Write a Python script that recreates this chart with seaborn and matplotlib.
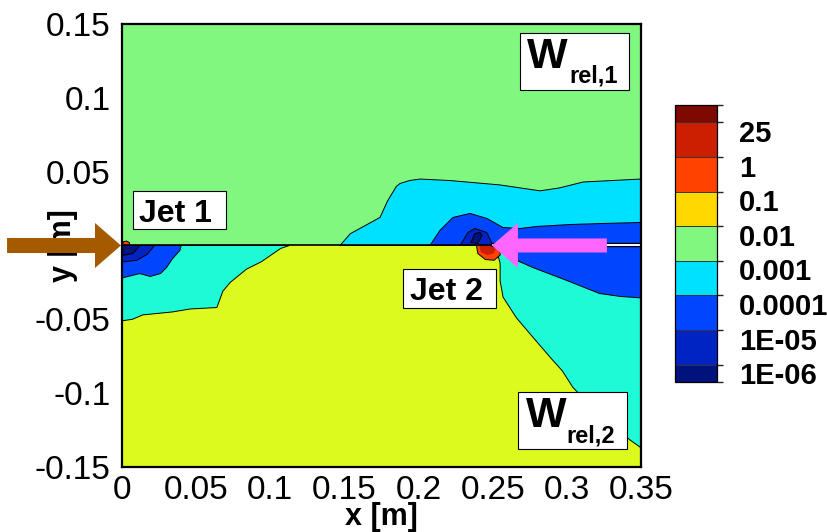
import matplotlib
matplotlib.use("Agg")
import matplotlib.pyplot as plt
import seaborn as sns
from matplotlib.colors import ListedColormap, BoundaryNorm
from matplotlib.cm import ScalarMappable
from matplotlib.patches import Rectangle, FancyArrow
from matplotlib.ticker import MultipleLocator

# ---- contour levels of the relative weight W_rel ----
level_labels = ["1E-06", "1E-05", "0.0001", "0.001", "0.01", "0.1", "1", "25"]
band_colors = ["#00127C", "#0024C4", "#0046FF", "#00E0FF", "#80F880",
               "#FFD800", "#FF4200", "#CC1E00", "#7C0A00"]
# fills of the lower stream (W_rel,2)
w2_high = "#DCFA1E"
w2_mid = "#1EFAD6"

# ---- domain halves ----
upper_x = [0.0, 0.35, 0.35, 0.0]
upper_y = [0.0, 0.0, 0.15, 0.15]
lower_x = [0.0, 0.35, 0.35, 0.0]
lower_y = [0.0, 0.0, -0.15, -0.15]

# ---- upper stream (W_rel,1) iso-regions ----
u_cyan_x = [0.147, 0.154, 0.174, 0.179, 0.185, 0.1875, 0.194, 0.201, 0.221, 0.255,
            0.282, 0.295, 0.311, 0.350, 0.350]
u_cyan_y = [0.0, 0.008, 0.019, 0.030, 0.040, 0.042, 0.044, 0.045, 0.044, 0.041,
            0.037, 0.039, 0.043, 0.045, 0.0]
u_blue_x = [0.2077, 0.2144, 0.2232, 0.2347, 0.2461, 0.2569, 0.2684, 0.2798, 0.3021,
            0.3243, 0.350, 0.350]
u_blue_y = [0.0, 0.0102, 0.0190, 0.0217, 0.0183, 0.0122, 0.0115, 0.0129, 0.0142,
            0.0149, 0.0156, 0.0]
u_mid_x = [0.228, 0.2333, 0.238, 0.246, 0.2495, 0.2495]
u_mid_y = [0.0, 0.0088, 0.0115, 0.0088, 0.0014, 0.0]
u_navy_x = [0.2353, 0.238, 0.2414, 0.2428, 0.240]
u_navy_y = [0.0020, 0.0081, 0.0088, 0.0068, 0.0014]

# ---- lower stream (W_rel,2) iso-regions ----
l_aqua_left_x = [0.0, 0.113, 0.107, 0.094, 0.084, 0.073, 0.068, 0.064, 0.046,
                 0.034, 0.014, 0.007, 0.0]
l_aqua_left_y = [0.0, 0.0, -0.002, -0.011, -0.016, -0.025, -0.031, -0.042, -0.043,
                 -0.045, -0.047, -0.050, -0.051]
l_aqua_right_x = [0.252, 0.350, 0.350, 0.343, 0.322, 0.304, 0.297, 0.289, 0.277,
                  0.266, 0.257, 0.255, 0.255, 0.253]
l_aqua_right_y = [0.0, 0.0, -0.137, -0.132, -0.115, -0.096, -0.085, -0.076, -0.062,
                  -0.049, -0.035, -0.024, -0.012, -0.005]
l_blue_right_x = [0.2505, 0.350, 0.350, 0.336, 0.322, 0.300, 0.277, 0.266, 0.257, 0.2515]
l_blue_right_y = [0.0, 0.0, -0.0355, -0.0345, -0.0325, -0.0237, -0.0149, -0.010,
                  -0.0045, -0.001]
l_blue_left_x = [0.0, 0.040, 0.039, 0.034, 0.030, 0.026, 0.019, 0.012, 0.0]
l_blue_left_y = [0.0, 0.0, -0.0034, -0.009, -0.015, -0.019, -0.021, -0.019, -0.022]
l_mid_left_x = [0.0, 0.022, 0.017, 0.010, 0.002, 0.0]
l_mid_left_y = [0.0, 0.0, -0.006, -0.010, -0.011, -0.011]
l_navy_left_x = [0.0, 0.012, 0.0075, 0.0]
l_navy_left_y = [0.0, 0.0, -0.0054, -0.0068]
jet2_orange_x = [0.2390, 0.2400, 0.2450, 0.2510, 0.2550, 0.2550, 0.2530]
jet2_orange_y = [0.0, -0.0055, -0.0095, -0.0100, -0.0065, -0.001, 0.0]
jet2_red_x = [0.2410, 0.2420, 0.2465, 0.2505, 0.2520, 0.2510]
jet2_red_y = [0.0, -0.0045, -0.0065, -0.0055, -0.0025, 0.0]
jet1_dot_x = [0.0, 0.001, 0.003, 0.005, 0.005]
jet1_dot_y = [0.0, 0.0025, 0.003, 0.002, 0.0]

# ---- axis ticks ----
x_ticks = [0.0, 0.05, 0.1, 0.15, 0.2, 0.25, 0.3, 0.35]
x_tick_labels = ["0", "0.05", "0.1", "0.15", "0.2", "0.25", "0.3", "0.35"]
y_ticks = [-0.15, -0.1, -0.05, 0.0, 0.05, 0.1, 0.15]
y_tick_labels = ["-0.15", "-0.1", "-0.05", "0", "0.05", "0.1", "0.15"]

sns.set_theme(style="white")
plt.rcParams["font.family"] = ["Liberation Sans", "DejaVu Sans"]

fig = plt.figure(figsize=(8.27, 5.32), dpi=100)
ax = fig.add_axes([0.1475, 0.1222, 0.6276, 0.8327])
cax = fig.add_axes([0.8162, 0.2820, 0.0508, 0.5206])

regions = [
    (upper_x, upper_y, band_colors[4], False),
    (lower_x, lower_y, w2_high, False),
    (u_cyan_x, u_cyan_y, band_colors[3], True),
    (u_blue_x, u_blue_y, band_colors[2], True),
    (u_mid_x, u_mid_y, band_colors[1], True),
    (u_navy_x, u_navy_y, band_colors[0], True),
    (l_aqua_left_x, l_aqua_left_y, w2_mid, True),
    (l_aqua_right_x, l_aqua_right_y, w2_mid, True),
    (l_blue_right_x, l_blue_right_y, band_colors[2], True),
    (l_blue_left_x, l_blue_left_y, band_colors[2], True),
    (l_mid_left_x, l_mid_left_y, band_colors[1], True),
    (l_navy_left_x, l_navy_left_y, band_colors[0], True),
    (jet2_orange_x, jet2_orange_y, band_colors[6], True),
    (jet2_red_x, jet2_red_y, band_colors[7], False),
    (jet1_dot_x, jet1_dot_y, band_colors[6], True),
]

z = 1.0
for xs, ys, col, edged in regions:
    ax.fill(xs, ys, facecolor=col, edgecolor="none", zorder=z)
    if edged:
        sns.lineplot(x=xs + [xs[0]], y=ys + [ys[0]], sort=False, estimator=None,
                     color="black", linewidth=0.7, ax=ax, zorder=z + 0.5)
    z += 1.0

# splitter plate between the two streams and the open wall downstream of jet 2
sns.lineplot(x=[0.0, 0.2505], y=[0.0, 0.0], sort=False, estimator=None,
             color="black", linewidth=1.2, ax=ax, zorder=z)
sns.lineplot(x=[0.2505, 0.35], y=[0.0, 0.0], sort=False, estimator=None,
             color="black", linewidth=3.2, ax=ax, zorder=z + 0.1)
sns.lineplot(x=[0.2505, 0.35], y=[0.0, 0.0], sort=False, estimator=None,
             color="white", linewidth=1.4, ax=ax, zorder=z + 0.2)

ax.set_xlim(0, 0.35)
ax.set_ylim(-0.15, 0.15)
ax.set_xticks(x_ticks)
ax.set_xticklabels(x_tick_labels)
ax.set_yticks(y_ticks)
ax.set_yticklabels(y_tick_labels)
ax.xaxis.set_minor_locator(MultipleLocator(0.01))
ax.yaxis.set_minor_locator(MultipleLocator(0.01))
ax.tick_params(which="major", direction="in", length=10, width=1.3, labelsize=24,
               colors="black", left=True, bottom=True, top=False, right=False)
ax.tick_params(axis="y", which="major", pad=8)
ax.tick_params(axis="x", which="major", pad=6)
ax.tick_params(which="minor", direction="in", length=5, width=1.0,
               left=True, bottom=True, top=False, right=False)
for s in ax.spines.values():
    s.set_color("black")
    s.set_linewidth(1.6)
    s.set_zorder(50)

ax.set_xlabel("x [m]", fontsize=22, fontweight="bold", color="black")
ax.set_ylabel("y [m]", fontsize=22, fontweight="bold", color="black")
ax.xaxis.set_label_coords(0.5, -0.113)
ax.xaxis.label.set_va("center")
ax.yaxis.set_label_coords(-0.1137, 0.5)
ax.yaxis.label.set_va("center")

# jet inlet arrows
ax.add_patch(FancyArrow(-0.0775, 0.0, 0.0768, 0.0, width=0.0102, head_width=0.0305,
                        head_length=0.0175, length_includes_head=True,
                        color="#A65A00", clip_on=False, zorder=60, lw=0))
ax.add_patch(FancyArrow(0.327, 0.0, -0.0775, 0.0, width=0.0095, head_width=0.0305,
                        head_length=0.0175, length_includes_head=True,
                        color="#FF66FF", clip_on=False, zorder=60, lw=0))

# label boxes
def label_box(x0, y0, x1, y1):
    ax.add_patch(Rectangle((x0, y0), x1 - x0, y1 - y0, facecolor="white",
                           edgecolor="black", linewidth=0.8, zorder=70))

label_box(0.0074, 0.0115, 0.0701, 0.0366)
ax.text(0.0118, 0.0156, "Jet 1", fontsize=23, fontweight="bold", ha="left",
        va="baseline", zorder=71, color="black")
label_box(0.1895, -0.0420, 0.2522, -0.0162)
ax.text(0.1940, -0.0372, "Jet 2", fontsize=23, fontweight="bold", ha="left",
        va="baseline", zorder=71, color="black")

label_box(0.2684, 0.1056, 0.3418, 0.1442)
ax.text(0.2732, 0.1205, "W", fontsize=31, fontweight="bold", ha="left",
        va="baseline", zorder=71, color="black")
ax.text(0.3016, 0.1104, "rel,1", fontsize=17, fontweight="bold", ha="left",
        va="baseline", zorder=71, color="black")
label_box(0.2670, -0.1381, 0.3405, -0.0995)
ax.text(0.2725, -0.1232, "W", fontsize=31, fontweight="bold", ha="left",
        va="baseline", zorder=71, color="black")
ax.text(0.2996, -0.1334, "rel,2", fontsize=17, fontweight="bold", ha="left",
        va="baseline", zorder=71, color="black")

# legend of contour levels; each label sits just under its band edge
bounds = [-0.5, 0, 1, 2, 3, 4, 5, 6, 7, 7.5]
cmap = ListedColormap(band_colors)
norm = BoundaryNorm(bounds, cmap.N)
cb = fig.colorbar(ScalarMappable(norm=norm, cmap=cmap), cax=cax, boundaries=bounds,
                  spacing="proportional", drawedges=True)
cb.set_ticks([i - 0.25 for i in range(len(level_labels))])
cb.ax.set_yticklabels(level_labels, fontsize=21, fontweight="bold", color="black")
cb.ax.tick_params(length=0, pad=16)
cb.outline.set_linewidth(0.9)
cb.outline.set_edgecolor("black")
cb.dividers.set_linewidth(0.7)
cb.dividers.set_color("#333333")

fig.savefig("out.png", dpi=100)
